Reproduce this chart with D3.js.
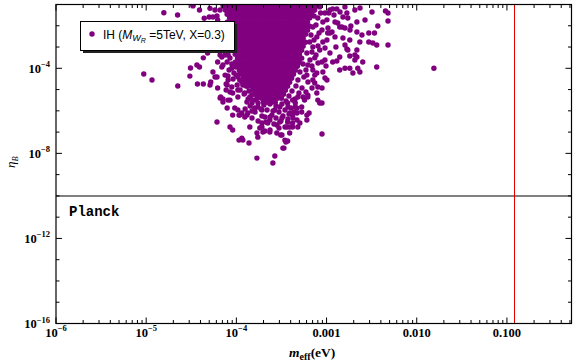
<!DOCTYPE html>
<html>
<head>
<meta charset="UTF-8">
<title>eta_B vs m_eff</title>
<style>
body{margin:0;background:#fff;}
svg{display:block;}
</style>
</head>
<body>
<script src="https://d3js.org/d3.v7.min.js"></script>
<script>
var width = 576, height = 363;
var pL = 56, pR = 571.5, pT = 4.5, pB = 323.5;

// axis ticks
var xMajor = [1e-6, 1e-5, 1e-4, 1e-3, 1e-2, 1e-1];
var xLabels = [["10","-6"], ["10","-5"], ["10","-4"], ["0.001"], ["0.010"], ["0.100"]];
var yMajor = [1e-4, 1e-8, 1e-12, 1e-16];
var yLabels = [["10","-4"], ["10","-8"], ["10","-12"], ["10","-16"]];

var planckEta = 1e-10;
var meffBound = 0.12;

// dense core of the scatter, one row per eta value
var coreEta = [8.3e-2, 5.4e-2, 3.5e-2, 2.3e-2, 1.47e-2, 9.5e-3, 6.2e-3, 4.0e-3, 2.6e-3, 1.68e-3,
  1.09e-3, 7.1e-4, 4.6e-4, 3.0e-4, 1.93e-4, 1.25e-4, 8.1e-5, 5.2e-5, 3.4e-5, 2.2e-5,
  1.43e-5, 9.3e-6, 6.0e-6, 3.9e-6, 2.5e-6];
var coreMeff = [
  [7.2e-5,7.9e-5,8.8e-5,9.7e-5,1.08e-4,1.2e-4,1.33e-4,1.47e-4,1.63e-4,1.8e-4,2e-4,2.2e-4,2.45e-4,2.7e-4,3e-4,3.33e-4,3.7e-4,4.1e-4,4.5e-4,5e-4,5.5e-4,6.15e-4,6.8e-4,7.55e-4],
  [7.6e-5,8.4e-5,9.3e-5,1.03e-4,1.14e-4,1.26e-4,1.39e-4,1.54e-4,1.71e-4,1.9e-4,2.1e-4,2.33e-4,2.58e-4,2.86e-4,3.16e-4,3.5e-4,3.9e-4,4.3e-4,4.75e-4,5.3e-4,5.85e-4,6.5e-4,7.2e-4],
  [7.9e-5,8.8e-5,9.7e-5,1.08e-4,1.2e-4,1.33e-4,1.47e-4,1.63e-4,1.8e-4,2e-4,2.2e-4,2.45e-4,2.7e-4,3e-4,3.33e-4,3.7e-4,4.1e-4,4.5e-4,5e-4,5.5e-4,6.15e-4,6.8e-4],
  [8.4e-5,9.3e-5,1.03e-4,1.14e-4,1.26e-4,1.39e-4,1.54e-4,1.71e-4,1.9e-4,2.1e-4,2.33e-4,2.58e-4,2.86e-4,3.16e-4,3.5e-4,3.9e-4,4.3e-4,4.75e-4,5.3e-4,5.85e-4,6.5e-4],
  [7.9e-5,8.8e-5,9.7e-5,1.08e-4,1.2e-4,1.33e-4,1.47e-4,1.63e-4,1.8e-4,2e-4,2.2e-4,2.45e-4,2.7e-4,3e-4,3.33e-4,3.7e-4,4.1e-4,4.5e-4,5e-4,5.5e-4,6.15e-4],
  [8.4e-5,9.3e-5,1.03e-4,1.14e-4,1.26e-4,1.39e-4,1.54e-4,1.71e-4,1.9e-4,2.1e-4,2.33e-4,2.58e-4,2.86e-4,3.16e-4,3.5e-4,3.9e-4,4.3e-4,4.75e-4,5.3e-4,5.85e-4,6.5e-4],
  [8.8e-5,9.7e-5,1.08e-4,1.2e-4,1.33e-4,1.47e-4,1.63e-4,1.8e-4,2e-4,2.2e-4,2.45e-4,2.7e-4,3e-4,3.33e-4,3.7e-4,4.1e-4,4.5e-4,5e-4,5.5e-4,6.15e-4],
  [9.3e-5,1.03e-4,1.14e-4,1.26e-4,1.39e-4,1.54e-4,1.71e-4,1.9e-4,2.1e-4,2.33e-4,2.58e-4,2.86e-4,3.16e-4,3.5e-4,3.9e-4,4.3e-4,4.75e-4,5.3e-4,5.85e-4],
  [9.7e-5,1.08e-4,1.2e-4,1.33e-4,1.47e-4,1.63e-4,1.8e-4,2e-4,2.2e-4,2.45e-4,2.7e-4,3e-4,3.33e-4,3.7e-4,4.1e-4,4.5e-4,5e-4,5.5e-4],
  [1.03e-4,1.14e-4,1.26e-4,1.39e-4,1.54e-4,1.71e-4,1.9e-4,2.1e-4,2.33e-4,2.58e-4,2.86e-4,3.16e-4,3.5e-4,3.9e-4,4.3e-4,4.75e-4,5.3e-4,5.85e-4],
  [9.7e-5,1.08e-4,1.2e-4,1.33e-4,1.47e-4,1.63e-4,1.8e-4,2e-4,2.2e-4,2.45e-4,2.7e-4,3e-4,3.33e-4,3.7e-4,4.1e-4,4.5e-4,5e-4,5.5e-4],
  [9.3e-5,1.03e-4,1.14e-4,1.26e-4,1.39e-4,1.54e-4,1.71e-4,1.9e-4,2.1e-4,2.33e-4,2.58e-4,2.86e-4,3.16e-4,3.5e-4,3.9e-4,4.3e-4,4.75e-4,5.3e-4],
  [9.7e-5,1.08e-4,1.2e-4,1.33e-4,1.47e-4,1.63e-4,1.8e-4,2e-4,2.2e-4,2.45e-4,2.7e-4,3e-4,3.33e-4,3.7e-4,4.1e-4,4.5e-4,5e-4],
  [1.03e-4,1.14e-4,1.26e-4,1.39e-4,1.54e-4,1.71e-4,1.9e-4,2.1e-4,2.33e-4,2.58e-4,2.86e-4,3.16e-4,3.5e-4,3.9e-4,4.3e-4,4.75e-4,5.3e-4],
  [9.7e-5,1.08e-4,1.2e-4,1.33e-4,1.47e-4,1.63e-4,1.8e-4,2e-4,2.2e-4,2.45e-4,2.7e-4,3e-4,3.33e-4,3.7e-4,4.1e-4,4.5e-4,5e-4],
  [1.03e-4,1.14e-4,1.26e-4,1.39e-4,1.54e-4,1.71e-4,1.9e-4,2.1e-4,2.33e-4,2.58e-4,2.86e-4,3.16e-4,3.5e-4,3.9e-4,4.3e-4,4.75e-4],
  [1.08e-4,1.2e-4,1.33e-4,1.47e-4,1.63e-4,1.8e-4,2e-4,2.2e-4,2.45e-4,2.7e-4,3e-4,3.33e-4,3.7e-4,4.1e-4,4.5e-4],
  [1.14e-4,1.26e-4,1.39e-4,1.54e-4,1.71e-4,1.9e-4,2.1e-4,2.33e-4,2.58e-4,2.86e-4,3.16e-4,3.5e-4,3.9e-4,4.3e-4],
  [1.2e-4,1.33e-4,1.47e-4,1.63e-4,1.8e-4,2e-4,2.2e-4,2.45e-4,2.7e-4,3e-4,3.33e-4,3.7e-4,4.1e-4],
  [1.26e-4,1.39e-4,1.54e-4,1.71e-4,1.9e-4,2.1e-4,2.33e-4,2.58e-4,2.86e-4,3.16e-4,3.5e-4,3.9e-4],
  [1.33e-4,1.47e-4,1.63e-4,1.8e-4,2e-4,2.2e-4,2.45e-4,2.7e-4,3e-4,3.33e-4,3.7e-4],
  [1.54e-4,1.71e-4,1.9e-4,2.1e-4,2.33e-4,2.58e-4,2.86e-4,3.16e-4,3.5e-4],
  [1.63e-4,1.8e-4,2e-4,2.2e-4,2.45e-4,2.7e-4,3e-4,3.33e-4],
  [1.9e-4,2.1e-4,2.33e-4,2.58e-4,2.86e-4,3.16e-4],
  [2e-4,2.2e-4,2.45e-4,2.7e-4]
];

// sparse points around the core, [m_eff, eta_B]
var scatterPts = [
  [1.57e-5,4.1e-2],[2.23e-5,3.2e-2],[3.3e-5,8.6e-2],[3.9e-5,5.5e-2],[4.4e-5,2.25e-2],[5.0e-5,2.6e-2],[5.5e-5,2.6e-2],[6.1e-5,2.9e-2],[5.8e-5,5.5e-2],[6.2e-5,1.9e-2],
  [5.1e-5,6.6e-2],[6.6e-5,5.5e-2],[7.1e-5,9.8e-2],[3.3e-5,9.5e-2],
  [4.8e-5,5.2e-4],[4.3e-5,3.1e-4],[3.65e-5,1.43e-4],[3.1e-5,1.03e-4],[3.9e-5,1.15e-4],[3.05e-5,4.3e-5],[9.4e-6,5.4e-5],[1.16e-5,2.8e-5],[2.24e-5,1.47e-5],[3.7e-5,1.82e-5],
  [4.3e-5,1.82e-5],[5.2e-5,2.26e-5],[6.1e-5,3.9e-5],[5.5e-5,6.7e-5],[6.6e-5,4.2e-4],[7.1e-5,1.43e-4],[6.2e-5,1.18e-5],[6.7e-5,4.5e-6],[7.1e-5,3.6e-6],[7.7e-5,9.5e-6],
  [7.9e-5,1.64e-5],[6.1e-5,3.0e-7],[8.5e-5,1.73e-7],[9.1e-5,1.25e-7],[1.07e-4,4.2e-8],[1.18e-4,4.2e-8],[1.38e-4,3.05e-8],[1.04e-4,1.09e-6],[1.07e-4,6.3e-7],[1.31e-4,6.3e-7],
  [1.41e-4,1.73e-7],[1.69e-4,9.0e-8],[1.73e-4,5.8e-8],[1.69e-4,6.0e-9],[2.67e-4,7.5e-9],[2.54e-4,3.5e-9],[3.37e-4,1.77e-8],[3.54e-4,3.4e-8],[3.9e-4,1.73e-7],[4.2e-4,2.67e-7],
  [4.8e-4,1.73e-7],[4.7e-4,7.9e-7],[4.5e-4,2.33e-6],[1.82e-4,1.55e-7],[2.07e-4,1.12e-7],[2.35e-4,3.7e-7],[3.03e-4,3.0e-7],[2.81e-4,9.0e-8],[3.1e-4,7.3e-8],[8.9e-4,8.1e-8],
  [6.6e-5,4.0e-6],[8.1e-5,3.2e-6],[9.6e-5,1.36e-6],[1.09e-4,6.3e-7],[1.24e-4,5.1e-7],[1.49e-4,9.8e-7],[2.07e-4,5.1e-7],[2.23e-4,2.67e-7],[2.81e-4,2.15e-7],[3.2e-4,4.6e-7],
  [3.9e-4,7.9e-7],[4.5e-4,1.51e-6],[4.7e-4,3.7e-7],[5.3e-4,8.8e-7],[5.7e-4,3.2e-6],[6.2e-4,5.5e-6],[6.9e-4,1.18e-5],[7.05e-4,2.8e-5],[7.8e-4,6.0e-5],[8.0e-4,3.2e-6],
  [8.4e-4,2.33e-6],[4.8e-4,4.5e-6],[4.2e-4,3.2e-6],[3.7e-4,2.33e-6],[3.03e-4,1.51e-6],[2.67e-4,1.09e-6],[2.48e-4,6.3e-7],[1.92e-4,1.09e-6],[1.73e-4,1.51e-6],[1.52e-4,3.2e-6],
  [1.41e-4,4.5e-6],[1.24e-4,6.9e-6],[1.04e-4,9.5e-6],[8.9e-5,1.32e-5],[8.1e-5,2.8e-5],[7.5e-5,4.8e-5],[6.9e-5,1.15e-4],[6.2e-5,1.98e-4],[6.9e-5,3.4e-4],[5.8e-5,3.9e-5],
  [5.1e-5,1.64e-5],[7.5e-5,4.2e-4],[8.5e-5,3.05e-4],
  [1.6e-3,7.7e-2],[2.06e-3,5.5e-2],[1.17e-3,6.2e-2],[1.3e-3,6.2e-2],[1.06e-3,4.0e-2],[8.6e-4,4.0e-2],[2.17e-3,1.51e-2],[1.52e-3,2.6e-2],[1.72e-3,2.33e-2],[1.24e-3,1.51e-2],
  [1.33e-3,1.36e-2],[9.1e-4,1.51e-2],[1.48e-3,8.8e-3],[1.86e-3,9.8e-3],[2.17e-3,5.1e-3],[2.94e-3,4.6e-3],[3.4e-3,4.6e-3],[3.7e-3,9.8e-3],[4.5e-3,5.0e-2],[4.8e-3,4.0e-2],
  [4.8e-3,1.68e-2],[2.94e-3,1.73e-3],[3.26e-3,1.55e-3],[3.6e-3,1.25e-3],[4.8e-3,1.25e-3],[2.34e-3,1.73e-3],[1.81e-3,2.15e-3],[1.52e-3,2.67e-3],[1.24e-3,3.0e-3],[1.09e-3,4.6e-3],
  [1.01e-3,2.15e-3],[1.27e-3,1.0e-3],[1.09e-3,5.2e-4],[1.4e-3,3.4e-4],[1.72e-3,7.3e-4],[2.17e-3,7.3e-4],[1.81e-3,3.8e-4],[2.17e-3,3.4e-4],[2.52e-3,1.98e-4],[3.6e-3,1.15e-4],
  [2.22e-3,1.0e-4],[1.81e-3,1.0e-4],[1.4e-3,8.3e-5],[1.96e-3,6.0e-5],[2.34e-3,6.7e-5],[1.17e-3,1.98e-4],[9.6e-4,2.46e-4],[9.1e-4,6.7e-5],[7.4e-4,4.8e-5],[1.01e-3,2.8e-5],
  [8.0e-4,1.32e-5],[8.9e-4,1.18e-5],[7.8e-4,6.9e-6],[8.9e-4,2.33e-6],[6.2e-4,4.5e-6],[6.4e-4,7.9e-7],[6.05e-4,6.3e-7],[5.3e-4,1.51e-6],[4.7e-4,1.34e-6],[5.06e-4,2.67e-7],
  [4.2e-4,1.73e-7],[3.9e-4,9.0e-8],[3.45e-4,4.2e-8],[3.7e-4,3.8e-8],[3.28e-4,1.77e-8],[3.2e-4,7.3e-8],[1.55e-2,1.0e-4],
  [1.68e-3,4.0e-2],[1.4e-3,8.8e-3],[1.6e-3,7.9e-3],[2.06e-3,4.2e-4],[2.06e-3,2.46e-4],[1.3e-3,2.2e-4],[1.6e-3,1.0e-4],[1.68e-3,8.1e-4],[1.15e-3,5.1e-3],
  [7.4e-4,5.5e-2],[8.4e-4,7.7e-2],[9.6e-4,4.0e-2],[1.09e-3,5.5e-2],[8.0e-4,2.33e-2],[1.01e-3,1.9e-2],[7.05e-4,8.8e-3],[8.9e-4,6.3e-3],[1.03e-3,4.6e-3],[7.8e-4,3.0e-3],
  [6.5e-4,1.73e-3],[9.1e-4,1.73e-3],[7.05e-4,1.0e-3],[8.4e-4,7.3e-4],[6.05e-4,5.2e-4],[7.4e-4,3.1e-4],[8.9e-4,1.98e-4],[6.2e-4,1.43e-4],[7.05e-4,8.3e-5],[6.05e-4,4.8e-5],
  [7.4e-4,2.04e-5],[9.6e-4,3.5e-5],[6.05e-4,3.7e-7],[4.2e-4,6.3e-7],[3.7e-4,3.0e-7],[3.63e-4,1.73e-7],[2.35e-4,1.0e-7],[1.97e-4,1.0e-7],[1.92e-4,2.67e-7],
  [7.64e-4,1.086e-2],[8.25e-4,4.57e-3],[7.26e-4,2.14e-3],[8.04e-4,1.118e-3],[6.89e-4,5.84e-4],[9.61e-4,9.01e-4],[1.037e-3,7.85e-3],[1.209e-3,3.21e-2],[1.41e-3,4.44e-2],[1.819e-3,6.32e-3],
  [1.601e-3,1.246e-3],[2.47e-3,3.68e-3],[2.67e-3,1.87e-2],[3.19e-3,4.44e-2],[2.35e-3,6.84e-2],[8.04e-4,1.775e-4],[9.86e-4,1.283e-4],[7.26e-4,2.88e-2],[6.72e-4,3.68e-3],[7.64e-4,4.22e-4],
  [8.5e-5,3.2e-6],[7.9e-5,1.36e-6],[9.1e-5,6.3e-7],[1.15e-4,7.9e-7],[1.34e-4,7.9e-7],[9.1e-5,6.9e-6],[1.31e-4,2.6e-6],[1.49e-4,2.33e-6],[1.69e-4,4.0e-6],[1.6e-4,1.36e-6],
  [1.15e-4,5.2e-8],[7.1e-5,2.6e-6],[7.9e-5,1.98e-4],[8.1e-5,4.2e-4],[8.9e-5,1.0e-4],[1.0e-4,4.8e-5],[1.09e-4,2.8e-5],[1.18e-4,1.64e-5],
  // halo just around the core
  [8.9e-5,1.59e-4],[9.9e-5,1.15e-4],[8.3e-5,8.3e-5],[9.4e-5,6.0e-5],[1.1e-4,6.7e-5],[1.04e-4,3.9e-5],[1.22e-4,4.35e-5],[9.2e-5,3.14e-5],[1.15e-4,2.27e-5],[1.31e-4,2.8e-5],
  [1.02e-4,1.64e-5],[1.28e-4,1.47e-5],[1.45e-4,1.83e-5],[1.1e-4,9.5e-6],[1.38e-4,8.56e-6],[1.22e-4,6.19e-6],[1.49e-4,5.56e-6],[1.61e-4,9.5e-6],[1.35e-4,3.6e-6],[1.65e-4,3.23e-6],
  [1.04e-4,4.47e-6],[8.5e-5,7.7e-6],[7.7e-5,1.83e-5],[8.07e-5,4.35e-5],
  [5.48e-4,1.59e-4],[5.91e-4,8.32e-5],[5.07e-4,6.7e-5],[5.61e-4,3.9e-5],[4.82e-4,2.82e-5],[6.22e-4,2.27e-5],[4.58e-4,1.47e-5],[5.34e-4,1.185e-5],[4.14e-4,8.56e-6],[4.94e-4,6.9e-6],
  [5.91e-4,7.7e-6],[3.83e-4,5.0e-6],[4.47e-4,3.6e-6],[5.48e-4,4.47e-6],[3.55e-4,2.9e-6],[6.55e-4,2.46e-4],[6.89e-4,1.283e-4],[5.07e-4,3.05e-4],
  [1.74e-4,2.34e-6],[2.02e-4,1.88e-6],[2.36e-4,2.1e-6],[2.75e-4,1.69e-6],[3.2e-4,2.1e-6],[3.73e-4,1.52e-6],[1.875e-4,1.22e-6],[2.19e-4,1.1e-6],[2.55e-4,9.8e-7],[2.97e-4,8.8e-7],
  [3.46e-4,1.1e-6],[4.03e-4,1.36e-6],[1.61e-4,8.8e-7],[1.92e-4,5.7e-7],[2.36e-4,5.1e-7],[2.75e-4,4.6e-7],[3.29e-4,5.7e-7],[3.83e-4,7.1e-7],[4.35e-4,8.8e-7],[1.42e-4,1.69e-6],
  [1.25e-4,1.22e-6],[1.74e-4,3.33e-7],[2.13e-4,3.0e-7],[2.61e-4,2.4e-7],[3.12e-4,3.33e-7],[3.73e-4,4.1e-7],[1.49e-4,4.6e-7],[1.92e-4,1.74e-7],[2.36e-4,1.26e-7],[3.46e-4,1.74e-7],
  [4.24e-4,4.6e-7],[2.97e-4,1.56e-7]
];

var x = d3.scaleLog().domain([1e-6, 0.52]).range([pL, pR]);
var y = d3.scaleLog().domain([1e-16, 1e-1]).range([pB, pT]);

var svg = d3.select("body").append("svg")
  .attr("width", width)
  .attr("height", height);

svg.append("clipPath").attr("id", "plotclip")
  .append("rect")
  .attr("x", pL).attr("y", pT)
  .attr("width", pR - pL).attr("height", pB - pT);

// flatten core rows + sparse points
var points = [];
coreEta.forEach(function(e, i) {
  coreMeff[i].forEach(function(m) { points.push([m, e]); });
});
scatterPts.forEach(function(p) { points.push(p); });

svg.append("g")
  .attr("clip-path", "url(#plotclip)")
  .selectAll("circle")
  .data(points)
  .enter()
  .append("circle")
  .attr("cx", function(d) { return x(d[0]); })
  .attr("cy", function(d) { return y(d[1]); })
  .attr("r", 2.7)
  .attr("fill", "#800080");

// Planck line and m_eff bound
svg.append("line")
  .attr("x1", pL).attr("x2", pR)
  .attr("y1", Math.round(y(planckEta))).attr("y2", Math.round(y(planckEta)))
  .attr("stroke", "#808080").attr("stroke-width", 2);
svg.append("line")
  .attr("x1", Math.round(x(meffBound)) + 0.5).attr("x2", Math.round(x(meffBound)) + 0.5)
  .attr("y1", pT).attr("y2", pB)
  .attr("stroke", "#e00000").attr("stroke-width", 1)
  .attr("shape-rendering", "crispEdges");

// frame
svg.append("rect")
  .attr("x", pL).attr("y", pT)
  .attr("width", pR - pL).attr("height", pB - pT)
  .attr("fill", "none").attr("stroke", "#000").attr("stroke-width", 1.2);

// ticks, all pointing inward
var ticks = svg.append("g").attr("stroke", "#000").attr("stroke-width", 1);
var xMinor = x.ticks();
xMinor.forEach(function(v) {
  var major = xMajor.some(function(m) { return Math.abs(m - v) / m < 1e-6; });
  var len = major ? 6 : 3.5;
  var px = x(v);
  ticks.append("line").attr("x1", px).attr("x2", px).attr("y1", pB).attr("y2", pB - len);
  ticks.append("line").attr("x1", px).attr("x2", px).attr("y1", pT).attr("y2", pT + len);
});
for (var k = -16; k <= -1; k++) {
  var v = Math.pow(10, k);
  var len = (k % 4 === 0) ? 6 : 3.5;
  var py = y(v);
  ticks.append("line").attr("x1", pL).attr("x2", pL + len).attr("y1", py).attr("y2", py);
  ticks.append("line").attr("x1", pR).attr("x2", pR - len).attr("y1", py).attr("y2", py);
}

// tick labels
var labelFont = '"Liberation Serif", "Times New Roman", serif';
xMajor.forEach(function(v, i) {
  var t = svg.append("text")
    .attr("x", x(v)).attr("y", 336.5)
    .attr("text-anchor", "middle")
    .attr("font-family", labelFont)
    .attr("font-weight", "bold")
    .attr("font-size", 12.5);
  t.append("tspan").text(xLabels[i][0]);
  if (xLabels[i][1]) {
    t.append("tspan").attr("dy", -5.5).attr("font-size", 8.5).text(xLabels[i][1].replace("-", "\u2212"));
  }
});
yMajor.forEach(function(v, i) {
  var t = svg.append("text")
    .attr("x", 50).attr("y", y(v) + 4.5)
    .attr("text-anchor", "end")
    .attr("font-family", labelFont)
    .attr("font-weight", "bold")
    .attr("font-size", 12.5);
  t.append("tspan").text(yLabels[i][0]);
  t.append("tspan").attr("dy", -5.5).attr("font-size", 8.5).text(yLabels[i][1].replace("-", "\u2212"));
});

// axis titles
var xt = svg.append("text")
  .attr("x", 289).attr("y", 357)
  .attr("font-family", labelFont)
  .attr("font-weight", "bold")
  .attr("font-size", 13.5);
xt.append("tspan").attr("font-style", "italic").text("m");
xt.append("tspan").attr("dy", 2.5).attr("font-size", 10).text("eff");
xt.append("tspan").attr("dy", -2.5).text("(eV)");

var yt = svg.append("text")
  .attr("transform", "translate(15,168) rotate(-90)")
  .attr("font-family", labelFont)
  .attr("font-size", 13);
yt.append("tspan").attr("font-style", "italic").text("\u03b7");
yt.append("tspan").attr("dy", 2.5).attr("font-size", 8.5).attr("font-style", "italic").text("B");

// Planck label
svg.append("text")
  .attr("x", 69).attr("y", 216)
  .attr("font-family", '"Liberation Mono", "DejaVu Sans Mono", monospace')
  .attr("font-weight", "bold")
  .attr("font-size", 14)
  .text("Planck");

// legend
var lg = svg.append("g");
lg.append("rect")
  .attr("x", 83).attr("y", 24)
  .attr("width", 154).attr("height", 29)
  .attr("fill", "#222");
lg.append("rect")
  .attr("x", 80.5).attr("y", 21.5)
  .attr("width", 154).attr("height", 29)
  .attr("fill", "#fff").attr("stroke", "#000").attr("stroke-width", 1);
lg.append("circle").attr("cx", 92).attr("cy", 34).attr("r", 2.7).attr("fill", "#800080");
var lt = lg.append("text")
  .attr("x", 103).attr("y", 38.5)
  .attr("font-family", '"Liberation Sans", Arial, sans-serif')
  .attr("font-size", 12);
lt.append("tspan").text("IH (");
lt.append("tspan").attr("font-style", "italic").text("M");
lt.append("tspan").attr("font-style", "italic").attr("font-size", 9).attr("dy", 2.5).text("W");
lt.append("tspan").attr("font-style", "italic").attr("font-size", 7).attr("dy", 2).text("R");
lt.append("tspan").attr("dy", -4.5).text(" =5TeV, X=0.3)");
</script>
</body>
</html>
